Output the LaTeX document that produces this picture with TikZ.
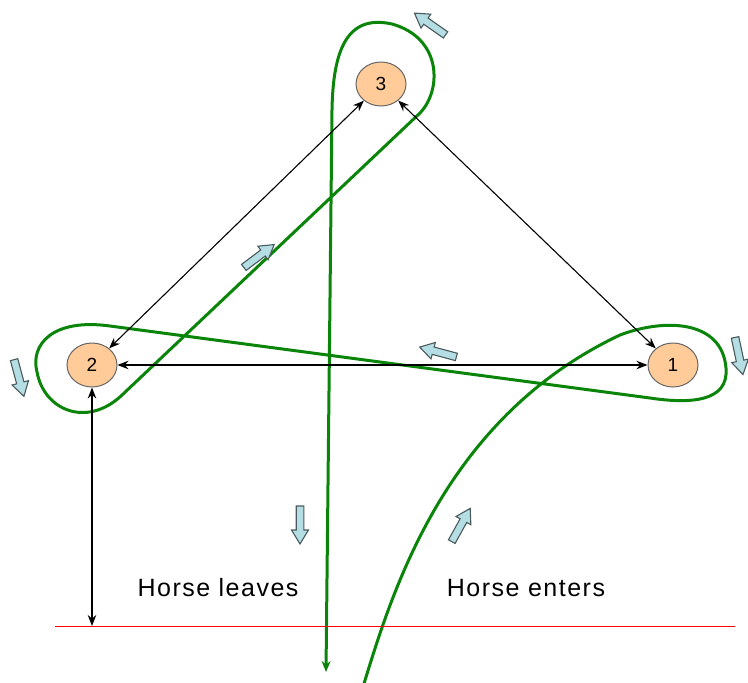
\documentclass[tikz,border=0pt]{standalone}
\usepackage{fontspec}
\setmainfont{Liberation Sans}
\usetikzlibrary{shapes.geometric,arrows.meta}
\definecolor{peach}{HTML}{FFCC99}
\definecolor{pathgreen}{HTML}{0A850A}
\definecolor{bluefill}{HTML}{B4DEE3}
\definecolor{blueedge}{HTML}{4A5A5C}
\begin{document}
\begin{tikzpicture}[x=1pt,y=-1pt,
  station/.style={ellipse,draw=black!60,fill=peach,line width=1pt,minimum width=50pt,minimum height=44pt,inner sep=0pt,font=\fontsize{19}{19}\selectfont},
  link/.style={line width=1.1pt,{Stealth[length=11pt,width=8.5pt]}-{Stealth[length=11pt,width=8.5pt]}},
  route/.style={pathgreen,line width=3pt,line join=round},
  label/.style={font=\fontsize{25}{29}\selectfont\addfontfeature{LetterSpace=6}},
  bluearrow/.pic={\draw[fill=bluefill,draw=blueedge,line width=1.1pt,line join=miter]
     (-19,-3.8) -- (5,-3.8) -- (5,-8.5) -- (19,0) -- (5,8.5) -- (5,3.8) -- (-19,3.8) -- cycle;}]
\useasboundingbox (0,0) rectangle (748,683);

% green route
\draw[route,-{Stealth[length=11pt,width=9pt]}]
  (362,690) .. controls (390,600) and (440,420) .. (620,335)
  .. controls (665,318) and (722,320) .. (726,368)
  .. controls (729,402) and (690,404) .. (650,398)
  -- (110,326)
  .. controls (52,318) and (30,345) .. (37,372)
  .. controls (44,410) and (86,428) .. (121,396)
  -- (420,113)
  .. controls (442,90) and (442,38) .. (392,24)
  .. controls (347,14) and (333,50) .. (332,110)
  -- (326,672);

% red line
\coordinate (rl) at (55,626);
\coordinate (rr) at (735,626);
\draw[red,line width=1pt] (rl) -- (rr);

% stations
\node[station] (n3) at (381,84) {3};
\node[station] (n2) at (92,365) {2};
\node[station] (n1) at (673,365) {1};
\coordinate (g) at (92,626);

\draw[link] (n2) -- (n3);
\draw[link] (n3) -- (n1);
\draw[link] (n2) -- (n1);
\draw[link] (n2) -- (g);

% direction arrows
\pic[rotate=145] at (430,24) {bluearrow};
\pic[rotate=-78] at (739,356) {bluearrow};
\pic[rotate=-75] at (19,378) {bluearrow};
\pic[rotate=37] at (259,256) {bluearrow};
\pic[rotate=165] at (438,352) {bluearrow};
\pic[rotate=-90] at (300,525) {bluearrow};
\pic[rotate=61] at (461,525) {bluearrow};

% labels
\node[label] (leave) at (218,588) {Horse leaves};
\node[label] (enter) at (526,588) {Horse enters};
\end{tikzpicture}
\end{document}
